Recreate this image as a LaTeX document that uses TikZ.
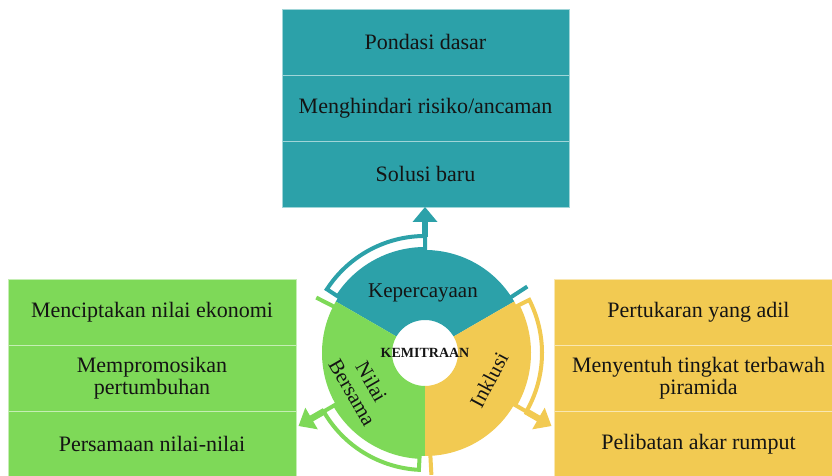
\documentclass[tikz,border=0pt]{standalone}
\usepackage{fontspec}
\setmainfont{Liberation Serif}
\usetikzlibrary{calc}
\definecolor{tealc}{RGB}{44,161,169}
\definecolor{greenc}{RGB}{126,217,88}
\definecolor{yellowc}{RGB}{242,202,82}
\definecolor{inkc}{RGB}{20,20,20}

% hollow curved arrow around the ring: #1 colour, #2 start angle, #3 end angle
\newcommand{\ringarrow}[3]{%
  \draw[#1, line width=4pt, fill=white]
    ($(C)+(#2:117pt)$) arc[start angle=#2, end angle=#3, radius=117pt]
    -- ($(C)+(#3:104pt)$) arc[start angle=#3, end angle=#2, radius=104pt] -- cycle;
  \draw[#1, line width=6.5pt] ($(C)+(#3:116pt)$) -- ($(C)+(#3:132pt)$);
  \fill[#1] ($(C)+(#3:131pt)+(#3+90:12.5pt)$) -- ($(C)+(#3:146pt)$)
    -- ($(C)+(#3:131pt)+(#3-90:12.5pt)$) -- cycle;
}
% ring segment between two angles
\newcommand{\ringpart}[3]{%
  \fill[#1] ($(C)+(#2:103pt)$) arc[start angle=#2, end angle=#3, radius=103pt]
    -- ($(C)+(#3:33pt)$) arc[start angle=#3, end angle=#2, radius=33pt] -- cycle;
}

\begin{document}
\begin{tikzpicture}[x=1pt,y=1pt,
  cell/.style={fill=#1, draw=white!55!#1, line width=0.8pt, minimum height=66pt,
    inner sep=0pt, align=center, text=inkc, font=\fontsize{22}{22.5}\selectfont},
  seglabel/.style={inner sep=0pt, align=center, text=inkc, font=\fontsize{21}{22}\selectfont},
  bar/.style={line width=4pt}]
\useasboundingbox (0,0) rectangle (832,476);
\clip (0,0) rectangle (832,476);

\coordinate (C) at (425,123);

% top column
\node[cell=tealc, minimum width=287pt] (t1) at (425.5,434) {Pondasi dasar};
\node[cell=tealc, minimum width=287pt] (t2) at (425.5,368) {Menghindari risiko/ancaman};
\node[cell=tealc, minimum width=287pt] (t3) at (425.5,302) {Solusi baru};

% left column
\node[cell=greenc, minimum width=288pt] (l1) at (152,164) {Menciptakan nilai ekonomi};
\node[cell=greenc, minimum width=288pt] (l2) at (152,98) {Mempromosikan\\pertumbuhan};
\node[cell=greenc, minimum width=288pt] (l3) at (152,32) {Persamaan nilai-nilai};

% right column
\node[cell=yellowc, minimum width=289pt] (r1) at (698.5,164) {Pertukaran yang adil};
\node[cell=yellowc, minimum width=289pt] (r2) at (698.5,98) {Menyentuh tingkat terbawah\\piramida};
\node[cell=yellowc, minimum width=289pt] (r3) at (698.5,32) {Pelibatan akar rumput};

% short bars at the segment joints
\draw[bar, tealc] ($(C)+(33:101pt)$) -- ($(C)+(33:122pt)$);
\draw[bar, greenc] ($(C)+(153:101pt)$) -- ($(C)+(153:122pt)$);
\draw[bar, yellowc] ($(C)+(273:101pt)$) -- ($(C)+(273:122pt)$);

% arrows
\ringarrow{tealc}{147}{90}
\ringarrow{yellowc}{27}{-30}
\ringarrow{greenc}{267}{210}

% ring
\ringpart{tealc}{30}{150}
\ringpart{greenc}{150}{270}
\ringpart{yellowc}{270}{390}

\node[seglabel] (kep) at (423,183) {Kepercayaan};
\node[seglabel, rotate=62] (ink) at (489,96) {Inklusi};
\node[seglabel, rotate=-60] (nb) at (362,89) {Nilai\\Bersama};
\node[inner sep=0pt, text=inkc, font=\bfseries\fontsize{14}{14}\selectfont] (core) at (C) {KEMITRAAN};
\end{tikzpicture}
\end{document}
